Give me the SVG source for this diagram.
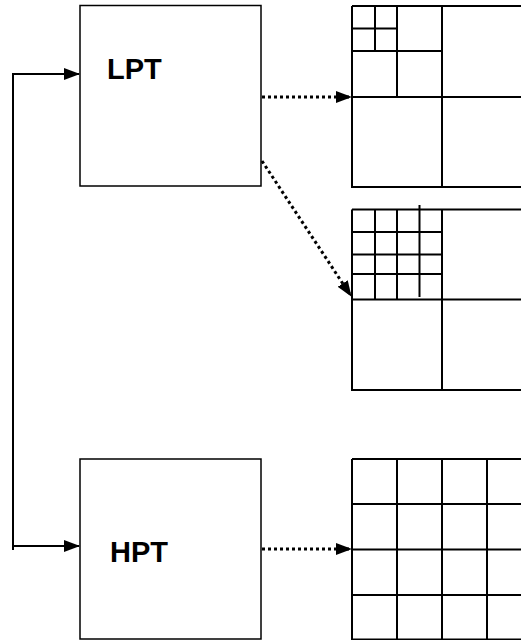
<svg xmlns="http://www.w3.org/2000/svg" width="521" height="640" viewBox="0 0 521 640">
<style>
.box{fill:#fff;stroke:#000;stroke-width:1.5}
.g{fill:none;stroke:#000;stroke-width:2}
.lbl{font-family:"Liberation Sans",Arial,sans-serif;font-weight:bold;font-size:29px;fill:#000}
.solid{fill:none;stroke:#000;stroke-width:2}
.dot{fill:none;stroke:#000;stroke-width:3;stroke-dasharray:3 3}
</style>
<defs>
<marker id="ah" markerWidth="16" markerHeight="12" refX="15" refY="6" orient="auto" markerUnits="userSpaceOnUse">
<path d="M0,0 L16,6 L0,12 Z" fill="#000"/>
</marker>
</defs>
<rect width="521" height="640" fill="#fff"/>
<g id="LPT">
<rect class="box" x="80" y="5.5" width="181" height="180.5"/>
<text class="lbl" x="107" y="79">LPT</text>
</g>
<g id="HPT">
<rect class="box" x="80" y="459" width="181" height="180"/>
<text class="lbl" x="110" y="562">HPT</text>
</g>
<g id="grid1">
<path class="g" d="M352,6 H530 M352,6 V187 H530 M442,6 V187 M352,97 H530 M397,6 V97 M352,51 H442 M375,6 V51 M352,28.5 H397"/>
</g>
<g id="grid2">
<path class="g" d="M352,209.5 H530 M352,209.5 V390 H530 M442,209.5 V390 M352,299.5 H530 M375,209.5 V299.5 M397,209.5 V299.5 M419.5,205 V297 M352,232 H442 M352,254.5 H442 M352,274 H442"/>
</g>
<g id="grid3">
<path class="g" d="M352,459 H530 M352,459 V639.5 H530 M397,459 V639.5 M442,459 V639.5 M487,459 V639.5 M352,504 H530 M352,549.5 H530 M352,595 H530"/>
</g>
<g id="connectors">
<path class="solid" d="M13,550 V74 H79" marker-end="url(#ah)"/>
<path class="solid" d="M13,546 H79" marker-end="url(#ah)"/>
<path class="dot" d="M262,97 H351" marker-end="url(#ah)"/>
<path class="dot" d="M262,549 H351" marker-end="url(#ah)"/>
<path class="dot" d="M262,161 L351,296" marker-end="url(#ah)"/>
</g>
</svg>
